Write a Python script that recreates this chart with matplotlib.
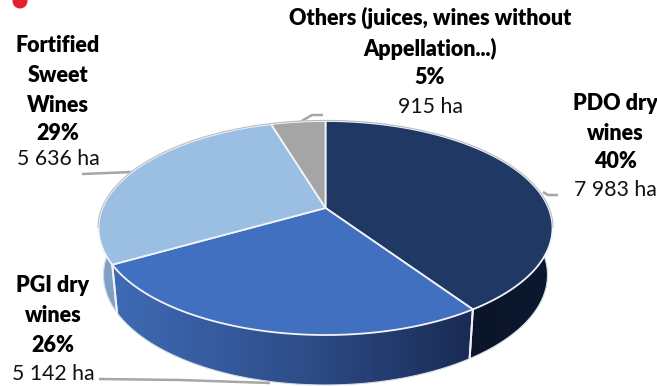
# 3D style pie of vineyard areas, drawn by hand since matplotlib has no 3D pie
import numpy as np
import matplotlib
matplotlib.use('Agg')
import matplotlib.pyplot as plt
from matplotlib.colors import LinearSegmentedColormap
from matplotlib.patches import Polygon, Circle

plt.rcParams['font.family'] = ['Lato', 'DejaVu Sans']

categories = ['PDO dry wines', 'PGI dry wines', 'Fortified Sweet Wines', 'Others']
areas = [7983, 5142, 5636, 915]
top_colors = ['#1f3864', '#4270c0', '#9bbfe2', '#a5a5a5']
wall_colors = [['#0a1426', '#0a1426', '#0c1830'],
               ['#3f6bb5', '#2f4f8c', '#1a2b54'],
               ['#7f9fc2', '#8fafd0', '#8fafd0'],
               ['#808080', '#808080', '#808080']]

# bold lines, then the plain area line
labels = [
    (['PDO dry', 'wines', '40%'], '7 983 ha', 615, [103, 133, 162], 190),
    (['PGI dry', 'wines', '26%'], '5 142 ha', 53, [286, 316, 346], 374),
    (['Fortified', 'Sweet', 'Wines', '29%'], '5 636 ha', 58, [45, 75, 105, 134], 159),
    (['Others (juices, wines without', 'Appellation...)', '5%'], '915 ha', 430, [18, 49, 78], 107),
]
leaders = [
    ([543, 548, 558], [192, 195, 195]),
    ([99, 180, 270], [379, 380, 383]),
    ([82, 132], [174, 172]),
    ([300, 312, 323], [122, 115, 115]),
]

cx, cy = 325.5, 228
a, b = 227, 107
bottom_cx, bottom_cy = 325.5, 275
bottom_a, bottom_b = 222, 110
tilt = 0.187


def rim(angle, x0, y0, rx, ry):
    # angle is clockwise from 12 o'clock, tilt moves the apex back for perspective
    x = np.sin(angle)
    y = np.cos(angle)
    d = 1 + tilt * y
    return x0 + rx * x * np.sqrt(1 - tilt ** 2) / d, y0 - ry * (y + tilt) / d


fig = plt.figure(figsize=(6.57, 3.86), dpi=100)
ax = fig.add_axes([0, 0, 1, 1])
ax.set_xlim(0, 657)
ax.set_ylim(386, 0)
ax.axis('off')

edges = np.cumsum([0] + areas) / sum(areas) * 2 * np.pi
apex_x, apex_y = cx, cy - b * tilt

# side walls first, the top face hides their back part
for i in range(len(areas)):
    t = np.linspace(edges[i], edges[i + 1], 150)
    tx, ty = rim(t, cx, cy, a, b)
    bx, by = rim(t, bottom_cx, bottom_cy, bottom_a, bottom_b)
    pts = np.column_stack([np.r_[tx, bx[::-1]], np.r_[ty, by[::-1]]])
    poly = Polygon(pts, closed=True, facecolor='none', edgecolor='none')
    ax.add_patch(poly)
    cmap = LinearSegmentedColormap.from_list('wall', wall_colors[i])
    grad = np.linspace(0, 1, 256).reshape(1, -1)
    img = ax.imshow(grad, cmap=cmap, aspect='auto', zorder=1,
                    extent=[pts[:, 0].min(), pts[:, 0].max(), 386, 0])
    img.set_clip_path(poly)
    ax.plot(bx, by, color='#d5dbe6', lw=0.8, zorder=2)
    ax.plot([tx[0], bx[0]], [ty[0], by[0]], color='#eef1f6', lw=1.4, zorder=2)
    ax.plot([tx[-1], bx[-1]], [ty[-1], by[-1]], color='#eef1f6', lw=1.4, zorder=2)
ax.set_xlim(0, 657)
ax.set_ylim(386, 0)

# top face
for i in range(len(areas)):
    t = np.linspace(edges[i], edges[i + 1], 150)
    tx, ty = rim(t, cx, cy, a, b)
    pts = np.column_stack([np.r_[apex_x, tx], np.r_[apex_y, ty]])
    ax.add_patch(Polygon(pts, closed=True, facecolor=top_colors[i],
                         edgecolor='#f2f4f8', lw=1.3, zorder=3, joinstyle='round'))

# thin grey shade on the back of the rim
t = np.linspace(-1.75, 1.75, 200)
tx, ty = rim(t, cx, cy, a + 0.6, b + 0.6)
ax.plot(tx, ty, color='#b9bdc4', lw=0.8, zorder=4)

for xs, ys in leaders:
    ax.plot(xs, ys, color='#a6a6a6', lw=1.8, zorder=2.5, solid_capstyle='butt')

for bold_lines, plain, x, bold_y, plain_y in labels:
    for line, y in zip(bold_lines, bold_y):
        ax.text(x, y, line, fontsize=15.5, fontweight='heavy', color='black',
                ha='center', va='center', zorder=5)
    ax.text(x, plain_y, plain, fontsize=15.3, color='#111111',
            ha='center', va='center', zorder=5)

# red dot cut by the top edge
ax.add_patch(Circle((20, 1), 7.5, facecolor='#e0202c', edgecolor='none', zorder=5))

fig.savefig('out.png', dpi=100)
